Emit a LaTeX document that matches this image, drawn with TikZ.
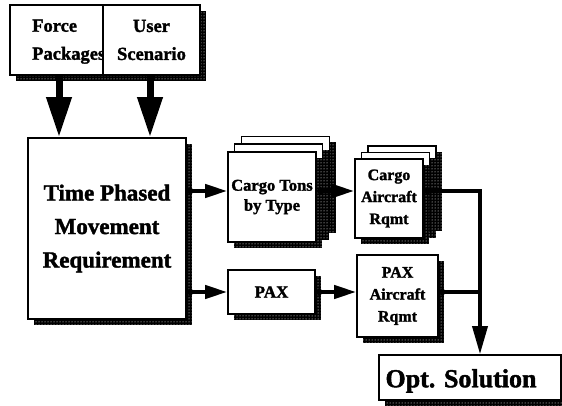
\documentclass[tikz,border=0pt]{standalone}
\usepackage{fontspec}
\setmainfont{Liberation Serif}[BoldFeatures={FakeBold=1.6}]
\usetikzlibrary{arrows.meta,patterns}
\begin{document}
\begin{tikzpicture}[x=1pt,y=-1pt,
  shadowed/.style={
    preaction={fill=black, draw=none, transform canvas={shift={(6pt,-6pt)}}},
    preaction={pattern=dots, pattern color=white, draw=none, transform canvas={shift={(6pt,-6pt)}}}},
  box/.style={shadowed, draw, line width=1.6pt, fill=white, inner sep=0pt, align=center, font=\bfseries},
  fA/.style={font=\bfseries\fontsize{18.5}{28}\selectfont},
  fB/.style={font=\bfseries\fontsize{23}{33.5}\selectfont},
  fC/.style={font=\bfseries\fontsize{16.5}{20}\selectfont},
  fD/.style={font=\bfseries\fontsize{16}{22}\selectfont},
  fE/.style={font=\bfseries\fontsize{17}{20}\selectfont},
  fF/.style={font=\bfseries\fontsize{26}{30}\selectfont},
  darr/.style={line width=7pt, -{Triangle[length=40pt,width=24pt]}},
  harr/.style={line width=4pt, {Circle[length=7pt]}-{Triangle[length=22pt,width=13pt]}},
  conn/.style={line width=4pt, {Circle[length=7pt]}-},
  varr/.style={line width=3.5pt, {Circle[length=7pt]}-{Triangle[length=28pt,width=15pt]}},
]
\useasboundingbox (0,0) rectangle (562,406);

% top boxes
\node[box, minimum width=93pt, minimum height=70pt] (fp) at (56.5,40) {};
\node[fA, align=left, anchor=west, inner sep=0pt] (fpt) at (32,41.7) {Force\\Packages};
\node[box, fA, minimum width=97pt, minimum height=70pt] (us) at (151.5,40) {User\\Scenario};

% main box
\node[box, fB, minimum width=158pt, minimum height=181pt] (tpmr) at (107,228.5) {Time Phased\\Movement\\Requirement};

% cargo tons stack
\node[box, minimum width=88pt, minimum height=90pt] (ct3) at (285.5,181.5) {};
\node[box, minimum width=88pt, minimum height=90pt] (ct2) at (278.5,189) {};
\node[box, fC, minimum width=88pt, minimum height=90pt] (ct) at (272,197) {Cargo Tons\\by Type};

% cargo aircraft stack
\node[box, minimum width=68pt, minimum height=79pt] (ca3) at (402,185.5) {};
\node[box, minimum width=68pt, minimum height=79pt] (ca2) at (395.5,192) {};
\node[box, fD, minimum width=68pt, minimum height=79pt] (ca) at (389,198.5) {Cargo\\Aircraft\\Rqmt};

% PAX
\node[box, fE, minimum width=87pt, minimum height=44pt] (pax) at (271.5,292) {PAX};
\node[box, fD, minimum width=81pt, minimum height=82pt] (pa) at (397.5,296) {PAX\\Aircraft\\Rqmt};

% solution
\node[box, minimum width=182pt, minimum height=45pt] (opt) at (470,377.5) {};
\node[fF, inner sep=0pt] (optt) at (461,381) {Opt. Solution};

% helper coordinates
\coordinate (d1) at (59,0);
\coordinate (d2) at (150,0);
\coordinate (ya) at (0,191);
\coordinate (yb) at (0,292);
\coordinate (xv) at (480,0);

% connectors
\draw[darr] (d1 |- fp.south) -- (d1 |- tpmr.north);
\draw[darr] (d2 |- us.south) -- (d2 |- tpmr.north);
\draw[harr] (tpmr.east |- ya) -- (ct.west |- ya);
\draw[harr] (tpmr.east |- yb) -- (pax.west |- yb);
\draw[harr] (ct.east |- ya) -- (ca.west |- ya);
\draw[harr] (pax.east |- yb) -- (pa.west |- yb);
\draw[varr] (ca.east |- ya) -- (xv |- ya) -- (xv |- opt.north);
\draw[conn] (pa.east |- yb) -- (xv |- yb);
\end{tikzpicture}
\end{document}
